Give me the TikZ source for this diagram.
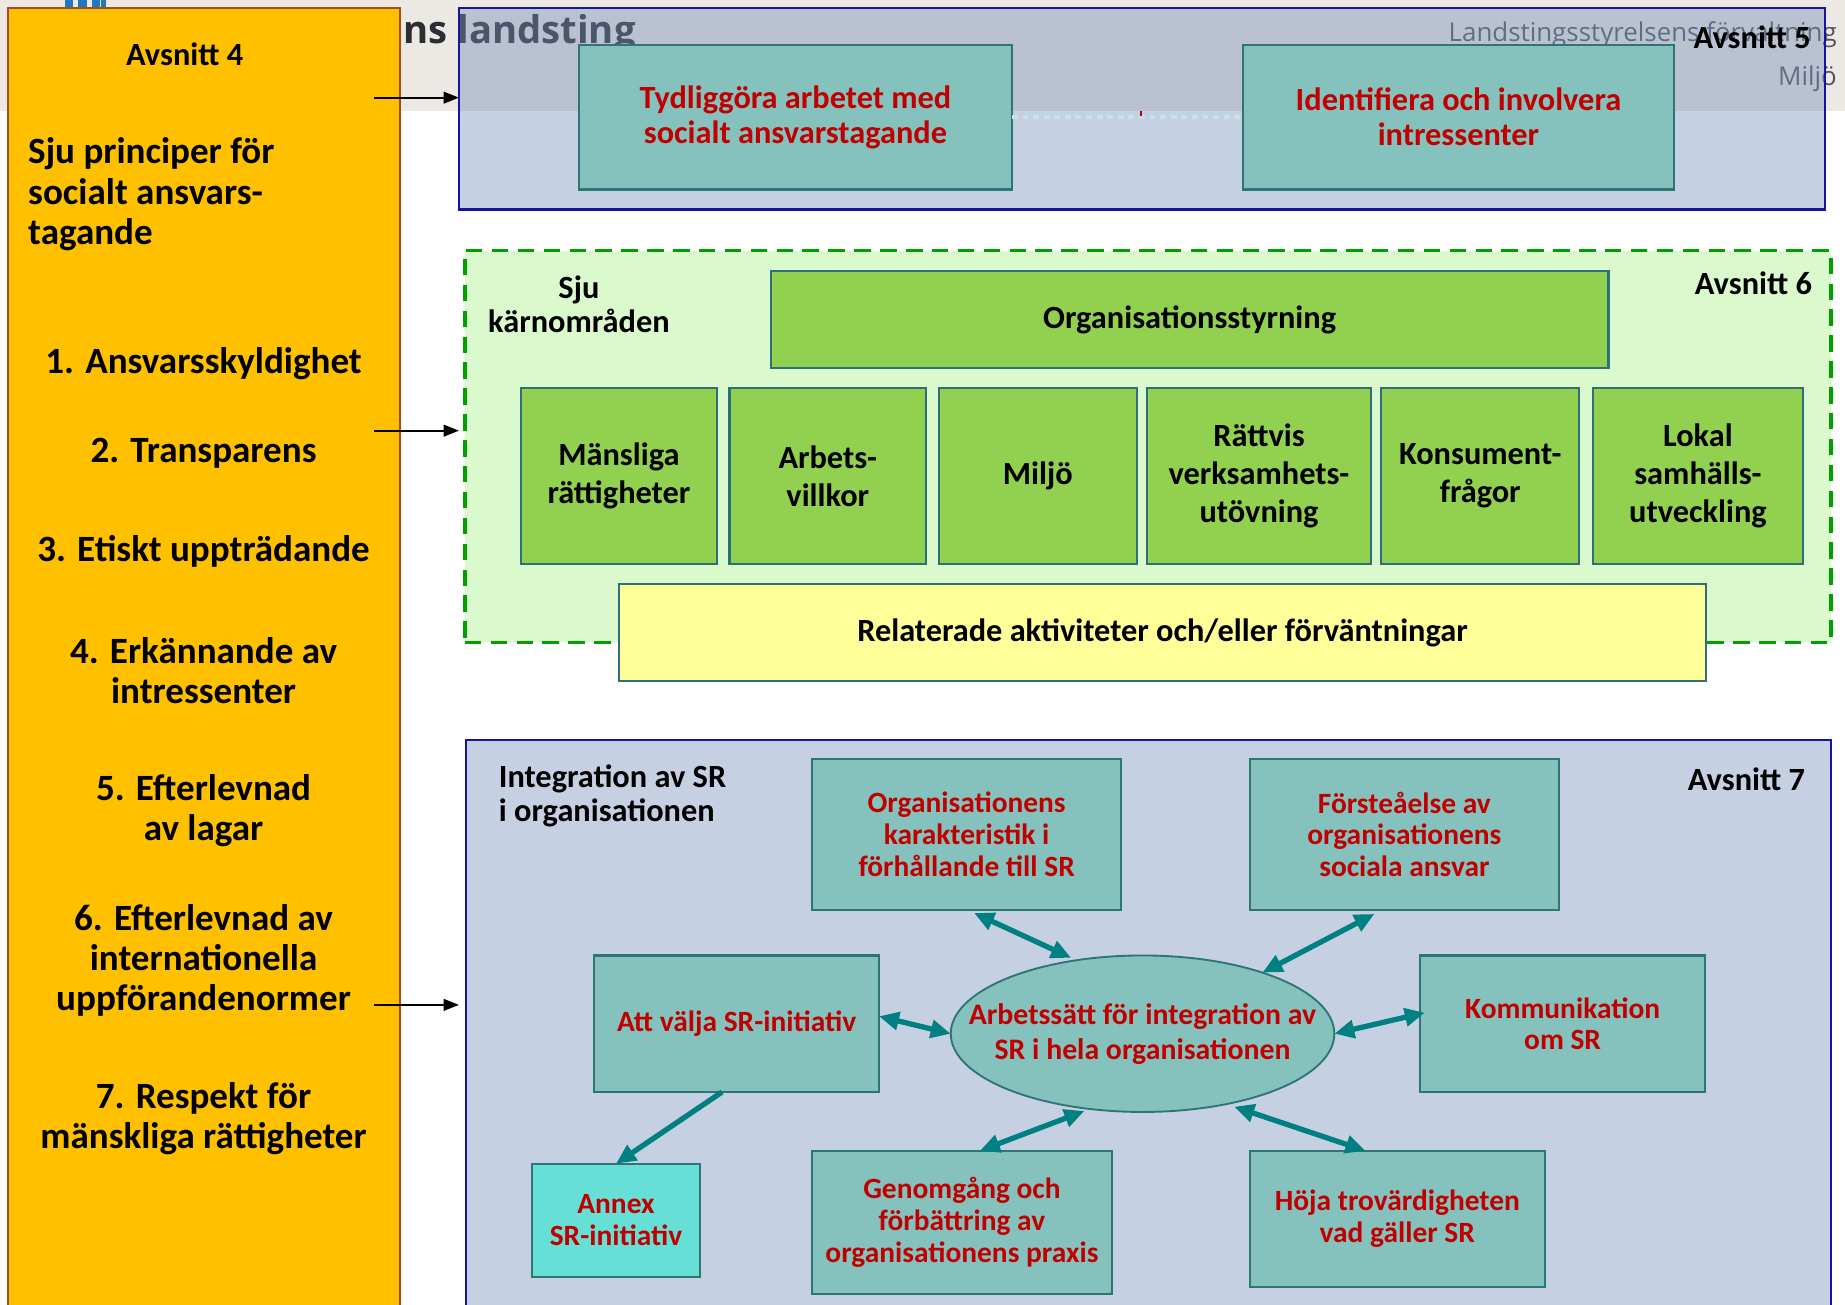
\documentclass[tikz,border=0pt]{standalone}
\usepackage{fontspec}
\setmainfont{Carlito}
\newfontfamily\hdrfont{Open Sans}
\usetikzlibrary{arrows.meta,shapes.geometric}
\definecolor{bandgrey}{HTML}{ECE8E3}
\definecolor{orangefill}{HTML}{FFC000}
\definecolor{orangeline}{HTML}{A64B2A}
\definecolor{navyline}{HTML}{1414A0}
\definecolor{blueveil}{HTML}{758FBA}
\definecolor{bluefill}{HTML}{C5D0E3}
\definecolor{tealfill}{HTML}{85C2BD}
\definecolor{tealline}{HTML}{2E7676}
\definecolor{redtxt}{HTML}{C00000}
\definecolor{greenfill}{HTML}{92D050}
\definecolor{greenline}{HTML}{2F6F7A}
\definecolor{lightgreen}{HTML}{DAF9CC}
\definecolor{dashgreen}{HTML}{00A000}
\definecolor{yellowfill}{HTML}{FFFF99}
\definecolor{annexfill}{HTML}{66E0D6}
\definecolor{arrowteal}{HTML}{008080}
\definecolor{dotcyan}{HTML}{C0E6E8}
\definecolor{hdrgrey}{HTML}{50565F}
\definecolor{hdrdark}{HTML}{2A2E33}
\definecolor{logoblue}{HTML}{1F78C0}
\begin{document}
\begin{tikzpicture}[x=1pt,y=-1pt,
  every node/.style={inner sep=0pt, outer sep=0pt},
  obox/.style={draw=orangeline, line width=1.5pt, fill=orangefill, rectangle},
  secbox/.style={draw=navyline, line width=2pt, rectangle},
  tealbox/.style={draw=tealline, line width=1.8pt, fill=tealfill, rectangle, text=redtxt, align=center},
  greenbox/.style={draw=greenline, line width=1.8pt, fill=greenfill, rectangle, align=center,
     font=\bfseries\fontsize{27.5}{32.5}\selectfont},
  lbl/.style={align=center, font=\bfseries\fontsize{27.5}{30}\selectfont},
  princ/.style={align=center, font=\bfseries\fontsize{31.5}{34}\selectfont},
  redA/.style={font=\bfseries\fontsize{27.5}{29.5}\selectfont},
  redB/.style={font=\bfseries\fontsize{25}{27}\selectfont},
  blackarrow/.style={draw=black, line width=1.5pt, -{Triangle[length=13pt,width=10pt]}},
  tealarrow/.style={draw=arrowteal, line width=4.5pt, {Triangle[length=17pt,width=15pt]}-{Triangle[length=17pt,width=15pt]}},
  tealarrowone/.style={draw=arrowteal, line width=4.5pt, -{Triangle[length=17pt,width=15pt]}}
]
\useasboundingbox (0,0) rectangle (1568,1109);
\clip (0,0) rectangle (1568,1109);
\fill[white] (0,0) rectangle (1568,1109);
% header band
\fill[bandgrey] (0,0) rectangle (1568,94);
\node[anchor=base west, font=\hdrfont\bfseries\fontsize{32.5}{38}\selectfont, text=hdrdark] (hdrns) at (343,37) {ns landsting};
\node[anchor=base east, font=\hdrfont\fontsize{22}{26}\selectfont, text=hdrgrey] (hdrls) at (1561,35) {Landstingsstyrelsens förvaltning};
\node[anchor=base east, font=\hdrfont\fontsize{22}{26}\selectfont, text=hdrgrey] (hdrmi) at (1561,73) {Miljö};
\fill[logoblue] (55,0) rectangle (62,8);
\fill[logoblue] (66,0) rectangle (74,8);
\fill[logoblue] (78,0) rectangle (85,8);
\fill[logoblue] (86,0) rectangle (90,8);

% Avsnitt 5
\node[secbox, fill=blueveil, fill opacity=0.42, draw opacity=1, minimum width=1161, minimum height=171] (b5) at (970.5,92.5) {};
\node[tealbox, redA, minimum width=368, minimum height=123] (tydl) at (676,99.5) {Tydliggöra arbetet med\\socialt ansvarstagande};
\node[tealbox, redA, minimum width=367, minimum height=123] (ident) at (1239.5,99.5) {Identifiera och involvera\\intressenter};
\draw[dotcyan, line width=4pt, dash pattern=on 5pt off 4pt] (tydl) -- (ident);
\draw[redtxt, line width=1.5pt] (970,94) -- (970,99);
\node[lbl, anchor=east] (av5) at (1539,32) {Avsnitt 5};

% Avsnitt 4 (orange)
\node[obox, minimum width=333, minimum height=1110] (b4) at (173.5,562) {};
\node[lbl] (av4) at (157,46) {Avsnitt 4};
\node[anchor=west, align=left, font=\bfseries\fontsize{31.5}{34.5}\selectfont] (sju) at (24,165) {Sju principer för\\socialt ansvars-\\tagande};
\node[princ] (p1) at (173,309) {1. Ansvarsskyldighet};
\node[princ] (p2) at (173,385) {2. Transparens};
\node[princ] (p3) at (173,469) {3. Etiskt uppträdande};
\node[princ] (p4) at (173,570) {4. Erkännande av\\intressenter};
\node[princ] (p5) at (173,688.5) {5. Efterlevnad\\av lagar};
\node[princ] (p6) at (173,816) {6. Efterlevnad av\\internationella\\uppförandenormer};
\node[princ] (p7) at (173,951) {7. Respekt för\\mänskliga rättigheter};

% Avsnitt 6
\node[draw=dashgreen, line width=3pt, dash pattern=on 14pt off 8pt, fill=lightgreen, rectangle, minimum width=1161, minimum height=333] (b6) at (975.5,379.5) {};
\node[align=center, font=\bfseries\fontsize{27.5}{29}\selectfont] (sjuk) at (492,258.5) {Sju\\kärnområden};
\node[lbl, anchor=east] (av6) at (1540,241) {Avsnitt 6};
\node[greenbox, minimum width=712, minimum height=83] (orgs) at (1011,271.5) {Organisationsstyrning};
\node[greenbox, minimum width=166, minimum height=149] (c1) at (526,404.5) {Mänsliga\\rättigheter};
\node[greenbox, minimum width=167, minimum height=149] (c2) at (703.5,404.5) {Arbets-\\villkor};
\node[greenbox, minimum width=168, minimum height=149] (c3) at (882,404.5) {Miljö};
\node[greenbox, minimum width=190, minimum height=149] (c4) at (1070,404.5) {Rättvis\\verksamhets-\\utövning};
\node[greenbox, minimum width=168, minimum height=149] (c5) at (1258,404.5) {Konsument-\\frågor};
\node[greenbox, minimum width=178, minimum height=149] (c6) at (1443,404.5) {Lokal\\samhälls-\\utveckling};
\node[draw=greenline, line width=1.8pt, fill=yellowfill, rectangle, font=\bfseries\fontsize{27.5}{30}\selectfont, minimum width=924, minimum height=83] (rel) at (988,537.5) {Relaterade aktiviteter och/eller förväntningar};

% Avsnitt 7
\node[secbox, line width=1.6pt, fill=bluefill, minimum width=1160, minimum height=488] (b7) at (976,873) {};
\node[anchor=west, align=left, font=\bfseries\fontsize{27.5}{29}\selectfont] (intg) at (424,676.5) {Integration av SR\\i organisationen};
\node[lbl, anchor=east] (av7) at (1534,662) {Avsnitt 7};
\node[tealbox, redB, minimum width=263, minimum height=128] (orgk) at (821.5,709) {Organisationens\\karakteristik i\\förhållande till SR};
\node[tealbox, redB, minimum width=263, minimum height=128] (forst) at (1193.5,709) {Försteåelse av\\organisationens\\sociala ansvar};
\node[tealbox, redB, minimum width=242, minimum height=116] (attv) at (626,870) {Att välja SR-initiativ};
\node[draw=tealline, line width=1.6pt, fill=tealfill, ellipse, minimum width=326, minimum height=133] (ell) at (971,878.5) {};
\node[align=center, text=redtxt, font=\bfseries\fontsize{25.3}{30}\selectfont] (ellt) at (971,879) {Arbetssätt för integration av\\SR i hela organisationen};
\node[tealbox, redB, minimum width=242, minimum height=116] (komm) at (1328,870) {Kommunikation\\om SR};
\node[tealbox, redB, fill=annexfill, minimum width=143, minimum height=96] (annex) at (523.5,1037) {Annex\\SR-initiativ};
\node[tealbox, redB, minimum width=255, minimum height=122] (genom) at (817.5,1039) {Genomgång och\\förbättring av\\organisationens praxis};
\node[tealbox, redB, minimum width=251, minimum height=116] (hoja) at (1187.5,1036) {Höja trovärdigheten\\vad gäller SR};

% teal arrows
\draw[tealarrow, shorten <=7pt, shorten >=5pt] (orgk.south) -- (ell.132);
\draw[tealarrow, shorten <=8pt] (forst.-106) -- (ell.27);
\draw[tealarrow] (attv.3) -- (ell.west);
\draw[tealarrow, shorten >=-4pt] (ell.east) -- (komm.176);
\draw[tealarrow, shorten <=5pt] (ell.-125) -- (genom.76);
\draw[tealarrow, shorten <=7pt] (ell.-40) -- (hoja.115);
\draw[tealarrowone] (attv.-102) -- (annex.north);

% black arrows from Avsnitt 4
\coordinate (s5) at (318,83);
\coordinate (s6) at (318,366);
\coordinate (s7) at (318,854);
\draw[blackarrow] (s5) -- (s5 -| b5.west);
\draw[blackarrow] (s6) -- ([xshift=-5pt]s6 -| b6.west);
\draw[blackarrow] (s7) -- ([xshift=-6pt]s7 -| b7.west);
\end{tikzpicture}
\end{document}
